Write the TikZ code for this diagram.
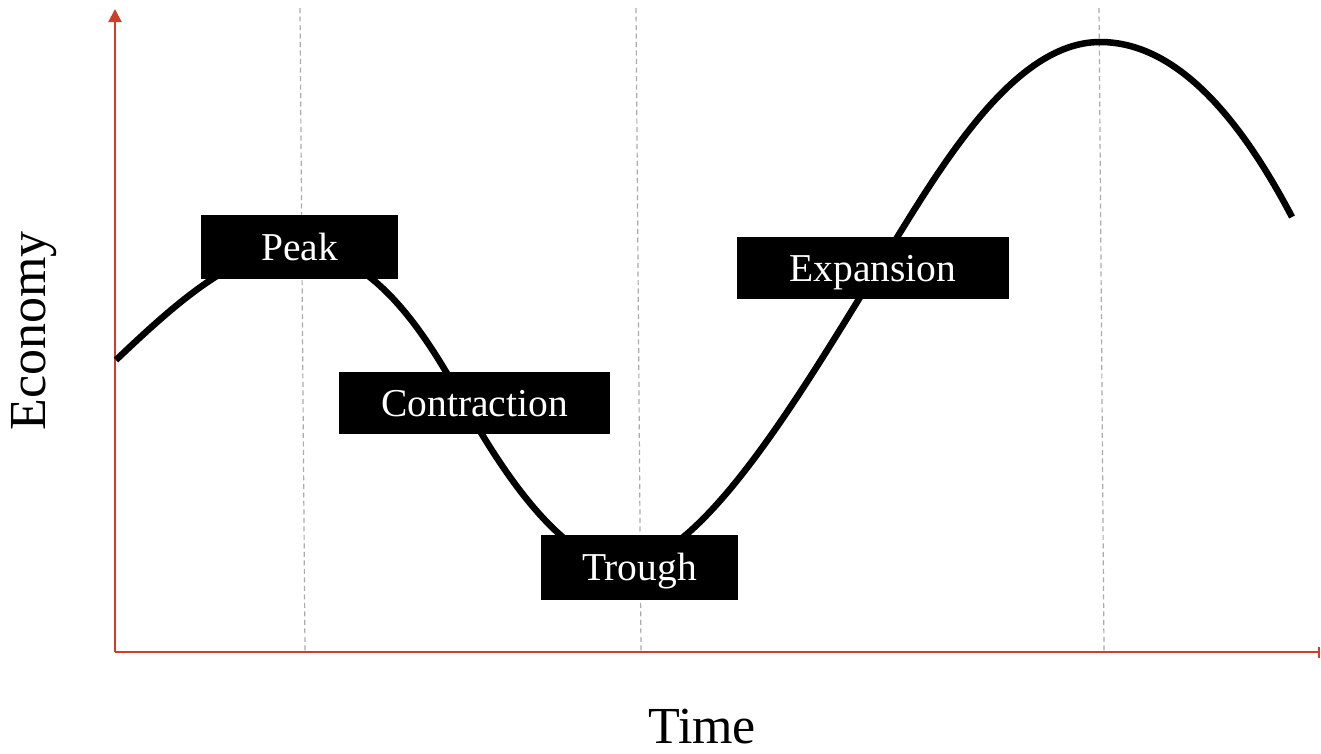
\documentclass[tikz,border=0pt]{standalone}
\usepackage{fontspec}
\setmainfont{Liberation Serif}
\usepackage{tikz}
\usetikzlibrary{arrows.meta}

\definecolor{axisred}{RGB}{208,62,42}

\begin{document}
\begin{tikzpicture}[x=1pt, y=-1pt,
    phase/.style={fill=black, text=white, inner sep=0pt, text height=26pt, text depth=0pt,
                  font=\fontsize{39.5}{41}\selectfont},
    guide/.style={draw=black!33, line width=1.2pt, dash pattern=on 5pt off 3.5pt},
    axislabel/.style={font=\fontsize{52}{54}\selectfont}]
    \useasboundingbox (0,0) rectangle (1321,753);

    % Guides
    \coordinate (g1t) at (300,8);   \coordinate (g1b) at (305,652);
    \coordinate (g2t) at (636,8);   \coordinate (g2b) at (641,652);
    \coordinate (g3t) at (1099,8);  \coordinate (g3b) at (1104,652);
    \draw [guide] (g1t) -- (g1b);
    \draw [guide] (g2t) -- (g2b);
    \draw [guide] (g3t) -- (g3b);

    % Axes
    \coordinate (origin) at (115,652);
    \coordinate (ytop)   at (115,9);
    \coordinate (xend)   at (1320,652);
    \draw [axisred, line width=2pt, -{Triangle[width=13pt,length=13pt]}] (origin) -- (ytop);
    \draw [axisred, line width=2pt, -{Bar[width=11pt,line width=2pt]}] (origin) -- (xend);

    % Cycle
    \draw [line width=6.5pt, line join=round]
        (116,360) .. controls (176,303) and (236,249) .. (296,249)
                  .. controls (376,249) and (430,342) .. (465,405)
                  .. controls (500,468) and (563,565) .. (623,565)
                  .. controls (703,565) and (810,377) .. (880,265)
                  .. controls (935,177) and (1010,42) .. (1100,42)
                  .. controls (1164,42) and (1228,95) .. (1292,217);

    % Phases
    \node [phase, minimum width=197pt, minimum height=64pt] (peak)        at (299.5,247)   {Peak};
    \node [phase, minimum width=271pt, minimum height=62pt] (contraction) at (474.5,403)   {Contraction};
    \node [phase, minimum width=197pt, minimum height=65pt] (trough)      at (639.5,567.5) {Trough};
    \node [phase, minimum width=272pt, minimum height=62pt] (expansion)   at (873,268)     {Expansion};

    % Axis labels
    \node [axislabel, rotate=90] (economy) at (34,331) {Economy};
    \node [axislabel, anchor=base, inner sep=0pt] (time) at (702,743) {Time};
\end{tikzpicture}
\end{document}
